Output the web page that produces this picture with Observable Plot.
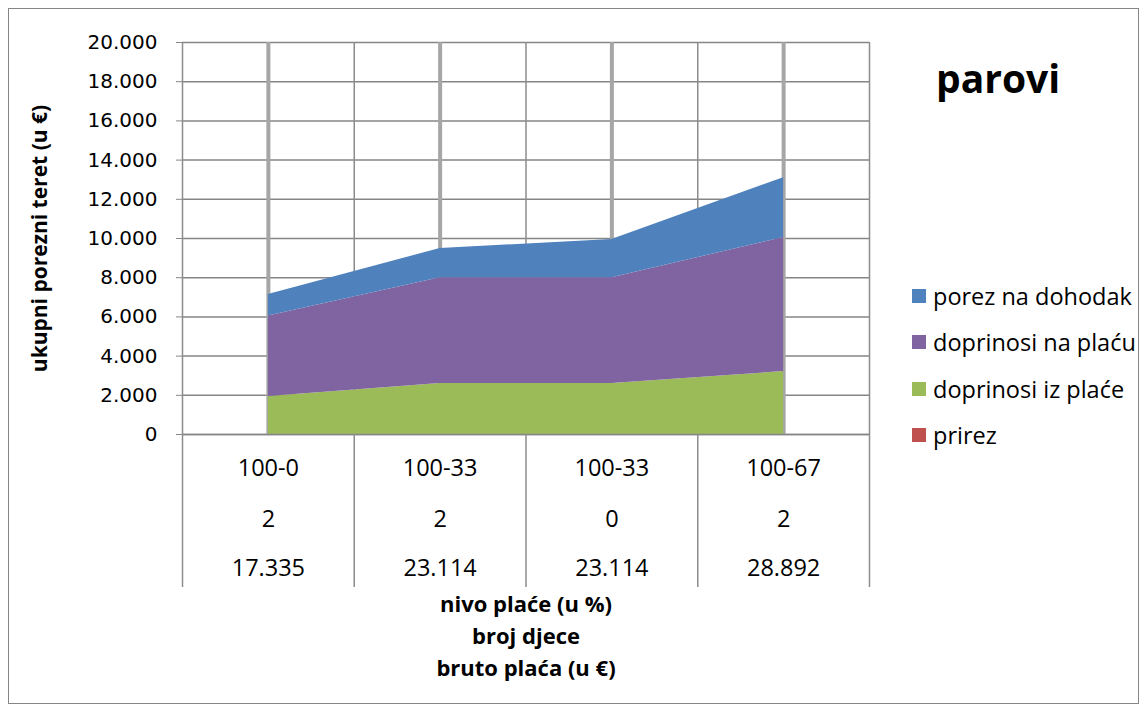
<!DOCTYPE html>
<html>
<head>
<meta charset="utf-8">
<script src="https://cdn.jsdelivr.net/npm/d3@7"></script>
<script src="https://cdn.jsdelivr.net/npm/@observablehq/plot@0.6"></script>
<style>
  html, body { margin: 0; padding: 0; background: #fff; }
  #wrap { position: relative; width: 1148px; height: 713px; overflow: hidden; }
  #frame { position: absolute; left: 8px; top: 8px; width: 1131px; height: 696px; border: 1.5px solid #868686; box-sizing: border-box; pointer-events: none; }
  #title { position: absolute; left: 936px; top: 58px; font: bold 39px "Open Sans", sans-serif; color: #000; line-height: 1; }
  #legend { position: absolute; left: 912px; top: 273px; font: 23.5px "Open Sans", sans-serif; color: #000; }
  #legend .row { display: flex; align-items: center; height: 46.3px; white-space: nowrap; }
  #legend .sw { width: 14px; height: 14px; margin-right: 7px; flex: none; }
</style>
</head>
<body>
<div id="wrap">
  <div id="chart"></div>
  <div id="title">parovi</div>
  <div id="legend"></div>
  <div id="frame"></div>
</div>
<script>
// ---- data ----
const levels = ["100-0", "100-33", "100-33", "100-67"];       // nivo plaće (u %)
const children = ["2", "2", "0", "2"];                          // broj djece
const gross = [17335, 23114, 23114, 28892];                     // bruto plaća (u €)
const seriesNames = ["prirez", "doprinosi iz plaće", "doprinosi na plaću", "porez na dohodak"];
const prirez = [0, 0, 0, 0];
const doprinosiIz = [1940, 2600, 2600, 3210];
const doprinosiNa = [4110, 5400, 5400, 6840];
const porez = [1090, 1490, 1950, 3050];
const seriesColors = ["#C0504D", "#9BBB59", "#8064A2", "#4F81BD"];
const yTicks = [0, 2000, 4000, 6000, 8000, 10000, 12000, 14000, 16000, 18000, 20000];
const yTitle = "ukupni porezni teret (u €)";
const xTitles = ["nivo plaće (u %)", "broj djece", "bruto plaća (u €)"];

const loc = d3.formatLocale({decimal: ",", thousands: ".", grouping: [3], currency: ["", "€"]});
const fmt = loc.format(",d");

const seriesValues = [prirez, doprinosiIz, doprinosiNa, porez];
const rows = [];
seriesNames.forEach((s, k) => seriesValues[k].forEach((v, i) => rows.push({i, series: s, value: v})));
const idx = levels.map((_, i) => i);
const bounds = [-0.5, ...idx.map(i => i + 0.5)];

const labelFont = {fontSize: 23.5, fontFamily: "Open Sans", fill: "#000", label: null, tickSize: 0};

const chart = Plot.plot({
  width: 1148,
  height: 713,
  marginLeft: 182,
  marginRight: 279,
  marginTop: 42,
  marginBottom: 279,
  style: {background: "transparent", overflow: "visible"},
  x: {type: "linear", domain: [-0.5, levels.length - 0.5]},
  y: {domain: [0, 20000]},
  color: {domain: seriesNames, range: seriesColors},
  marks: [
    Plot.gridY(yTicks, {stroke: "#868686", strokeOpacity: 1, strokeWidth: 1.5}),
    Plot.gridX(idx, {stroke: "#A6A6A6", strokeOpacity: 1, strokeWidth: 4}),
    Plot.gridX(bounds, {stroke: "#8C8C8C", strokeOpacity: 1, strokeWidth: 1.5}),
    Plot.areaY(rows, {x: "i", y: "value", fill: "series", order: seriesNames, curve: "linear"}),
    Plot.ruleY([0], {stroke: "#868686", strokeWidth: 1.5}),
    Plot.axisY({ticks: yTicks, tickFormat: fmt, tickSize: 6, tickPadding: 19, stroke: "#868686",
      fontSize: 20, fontFamily: "DejaVu Sans", fill: "#000", label: null}),
    Plot.axisX({ticks: bounds, tickSize: 153, tickFormat: () => "", stroke: "#8C8C8C", strokeWidth: 1.5, label: null}),
    Plot.axisX({ticks: idx, tickPadding: 25, tickFormat: i => levels[i], ...labelFont}),
    Plot.axisX({ticks: idx, tickPadding: 76, tickFormat: i => children[i], ...labelFont}),
    Plot.axisX({ticks: idx, tickPadding: 125, tickFormat: i => fmt(gross[i]), ...labelFont}),
    Plot.text([yTitle], {frameAnchor: "left", rotate: -90, textAnchor: "middle", dx: -142, fontSize: 21, fontWeight: "bold", fontFamily: "Open Sans", fill: "#000"}),
    ...xTitles.map((t, k) => Plot.text([t], {frameAnchor: "bottom", dy: 177 + k * 32, fontSize: 22, fontWeight: "bold", fontFamily: "Open Sans", fill: "#000"}))
  ]
});
document.getElementById("chart").appendChild(chart);

const legend = document.getElementById("legend");
seriesNames.slice().reverse().forEach((s, k) => {
  const c = seriesColors[seriesColors.length - 1 - k];
  const row = document.createElement("div");
  row.className = "row";
  row.innerHTML = `<span class="sw" style="background:${c}"></span><span>${s}</span>`;
  legend.appendChild(row);
});
</script>
</body>
</html>
